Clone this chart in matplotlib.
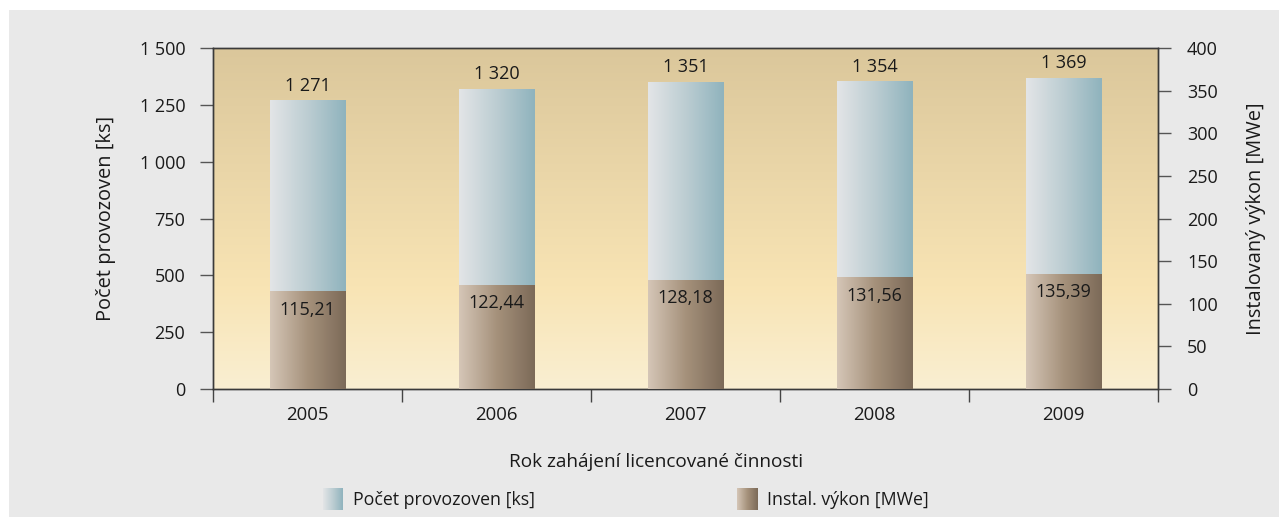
import numpy as np
import matplotlib
matplotlib.use("Agg")
import matplotlib.pyplot as plt
from matplotlib.colors import LinearSegmentedColormap
from matplotlib.patches import Rectangle
from matplotlib.ticker import FuncFormatter, FixedLocator

plt.rcParams['font.family'] = ['Open Sans', 'DejaVu Sans']

# data
years = ['2005', '2006', '2007', '2008', '2009']
provozovny = [1271, 1320, 1351, 1354, 1369]          # left axis [ks]
vykon = [115.21, 122.44, 128.18, 131.56, 135.39]      # right axis [MWe]
left_ticks = [0, 250, 500, 750, 1000, 1250, 1500]
right_ticks = [0, 50, 100, 150, 200, 250, 300, 350, 400]

PANEL = '#e9e9e9'
TXT = '#1a1a1a'
NUM_FS = 13
LAB_FS = 14.4

bg_cmap = LinearSegmentedColormap.from_list(
    'bg', [(0.0, '#faefd2'), (0.3, '#f8e4b4'), (1.0, '#dbc79b')])
blue_cmap = LinearSegmentedColormap.from_list(
    'blue', ['#e3e5e7', '#bccdd2', '#8fb3bd'])
brown_cmap = LinearSegmentedColormap.from_list(
    'brown', ['#d5c6b7', '#a5917b', '#7c6a58'])


def fmt_space(v, pos=None):
    return f"{int(v):,}".replace(',', ' ')


fig = plt.figure(figsize=(12.79, 5.17), dpi=100)
fig.patch.set_facecolor('white')
fig.patches.append(Rectangle((9 / 1279, 0), 1, 1 - 10 / 517, transform=fig.transFigure,
                             facecolor=PANEL, edgecolor='none', zorder=-10))

ax = fig.add_axes([213 / 1279, 128 / 517, 945 / 1279, 341 / 517])
ax2 = ax.twinx()

x = np.arange(len(years))
w = 0.4

ax.set_xlim(-0.5, len(years) - 0.5)
ax.set_ylim(0, 1500)
ax2.set_ylim(0, 400)

# background gradient
grad_v = np.linspace(0, 1, 256).reshape(-1, 1)
ax.imshow(grad_v, cmap=bg_cmap, aspect='auto', origin='lower',
          extent=[-0.5, len(years) - 0.5, 0, 1500], zorder=0)

grad_h = np.linspace(0, 1, 256).reshape(1, -1)

# blue bars (left axis)
bars1 = ax.bar(x, provozovny, width=w, color='none', zorder=2)
for b, v in zip(bars1, provozovny):
    im = ax.imshow(grad_h, cmap=blue_cmap, aspect='auto',
                   extent=[b.get_x(), b.get_x() + w, 0, v], zorder=2)
    im.set_clip_path(b)
    ax.annotate(fmt_space(v), (b.get_x() + w / 2, v), xytext=(0, 4),
                textcoords='offset points', ha='center', va='bottom',
                fontsize=NUM_FS, color=TXT)

# brown bars (right axis)
bars2 = ax2.bar(x, vykon, width=w, color='none', zorder=3)
for b, v in zip(bars2, vykon):
    im = ax2.imshow(grad_h, cmap=brown_cmap, aspect='auto',
                    extent=[b.get_x(), b.get_x() + w, 0, v], zorder=3)
    im.set_clip_path(b)
    ax2.annotate(f"{v:.2f}".replace('.', ','), (b.get_x() + w / 2, v), xytext=(0, -7),
                 textcoords='offset points', ha='center', va='top',
                 fontsize=NUM_FS, color=TXT)
ax2.set_xlim(-0.5, len(years) - 0.5)

# axes styling
for a in (ax, ax2):
    for s in a.spines.values():
        s.set_color('#3a3a3a')
        s.set_linewidth(1.0)

ax.set_yticks(left_ticks)
ax.yaxis.set_major_formatter(FuncFormatter(fmt_space))
ax.tick_params(axis='y', direction='out', length=9.4, width=1, color='#555555',
               pad=10.5, labelsize=NUM_FS, labelcolor=TXT)
ax2.set_yticks(right_ticks)
ax2.tick_params(axis='y', direction='out', length=9.4, width=1, color='#555555',
                pad=11.5, labelsize=NUM_FS, labelcolor=TXT)

ax.set_xticks(x)
ax.set_xticklabels(years)
ax.xaxis.set_minor_locator(FixedLocator(np.arange(-0.5, len(years), 1.0)))
ax.tick_params(axis='x', which='major', length=0, pad=12, labelsize=13.4, labelcolor=TXT)
ax.tick_params(axis='x', which='minor', direction='out', length=9.4, width=1, color='#444444')

ax.set_ylabel('Počet provozoven [ks]', fontsize=LAB_FS, color=TXT)
ax.yaxis.set_label_coords(-0.103, 0.5)
ax2.set_ylabel('Instalovaný výkon [MWe]', fontsize=LAB_FS, color=TXT)
ax2.yaxis.set_label_coords(1.093, 0.5)

fig.text(656 / 1279, 1 - 462 / 517, 'Rok zahájení licencované činnosti',
         ha='center', va='center', fontsize=13.7, color=TXT)

# legend with gradient swatches
legend_items = [('Počet provozoven [ks]', blue_cmap, 323),
                ('Instal. výkon [MWe]', brown_cmap, 737)]
for label, cmap, px in legend_items:
    sw = fig.add_axes([px / 1279, 1 - 510 / 517, 20 / 1279, 22 / 517])
    sw.imshow(grad_h, cmap=cmap, aspect='auto')
    sw.set_axis_off()
    fig.text((px + 30) / 1279, 1 - 500 / 517, label, ha='left', va='center',
             fontsize=12.8, color=TXT)

fig.savefig('out.png', dpi=100, facecolor=fig.get_facecolor())
